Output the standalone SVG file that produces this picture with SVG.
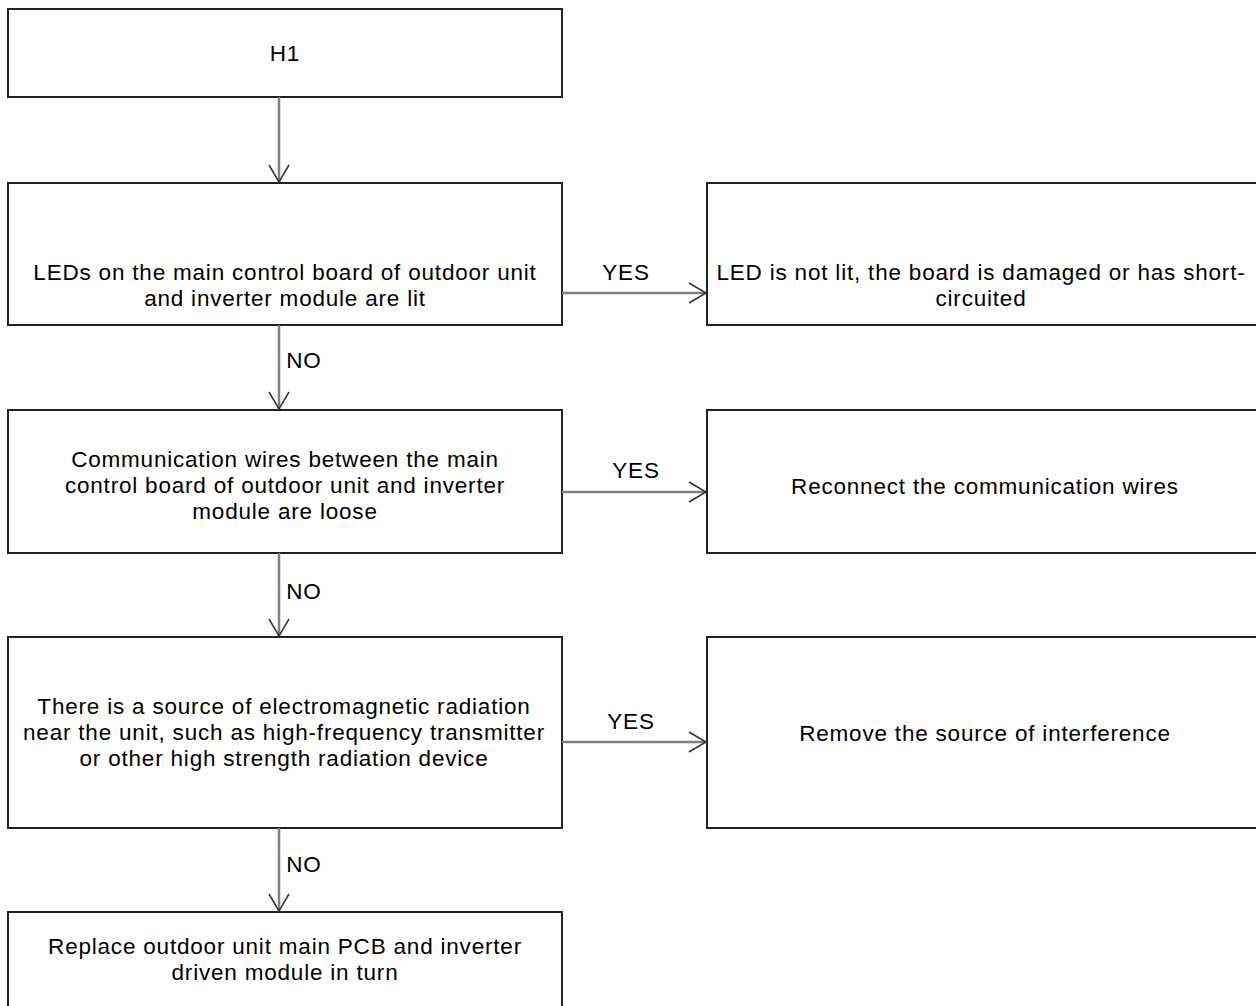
<svg xmlns="http://www.w3.org/2000/svg" width="1256" height="1006" viewBox="0 0 1256 1006">
<style>
.box{fill:#fff;stroke:#222;stroke-width:2}
.t{font-family:"Liberation Sans",Arial,sans-serif;font-size:22.5px;letter-spacing:0.8px;fill:#000;text-anchor:middle}
.c{stroke:#808080;stroke-width:2.5;fill:none}
.h{stroke:#333;stroke-width:1.5;fill:none}
</style>
<rect width="1256" height="1006" fill="#fff"/>
<g id="n1"><rect class="box" x="8" y="9" width="554" height="88"/><text class="t" x="285" y="61">H1</text></g>
<g id="n2"><rect class="box" x="8" y="183" width="554" height="142"/><text class="t" x="285" y="280">LEDs on the main control board of outdoor unit</text><text class="t" x="285" y="306">and inverter module are lit</text></g>
<g id="n3"><rect class="box" x="707" y="183" width="560" height="142"/><text class="t" x="981" y="280">LED is not lit, the board is damaged or has short-</text><text class="t" x="981" y="306">circuited</text></g>
<g id="n4"><rect class="box" x="8" y="410" width="554" height="143"/><text class="t" x="285" y="467">Communication wires between the main</text><text class="t" x="285" y="493">control board of outdoor unit and inverter</text><text class="t" x="285" y="519">module are loose</text></g>
<g id="n5"><rect class="box" x="707" y="410" width="560" height="143"/><text class="t" x="985" y="494">Reconnect the communication wires</text></g>
<g id="n6"><rect class="box" x="8" y="637" width="554" height="191"/><text class="t" x="284" y="714">There is a source of electromagnetic radiation</text><text class="t" x="284" y="740">near the unit, such as high-frequency transmitter</text><text class="t" x="284" y="766">or other high strength radiation device</text></g>
<g id="n7"><rect class="box" x="707" y="637" width="560" height="191"/><text class="t" x="985" y="741">Remove the source of interference</text></g>
<g id="n8"><rect class="box" x="8" y="912" width="554" height="110"/><text class="t" x="285" y="954">Replace outdoor unit main PCB and inverter</text><text class="t" x="285" y="980">driven module in turn</text></g>
<g id="connectors">
<path class="c" d="M279 97V182"/><path class="h" d="M269 165L279 182L289 165"/>
<path class="c" d="M279 325V409"/><path class="h" d="M269 392L279 409L289 392"/>
<path class="c" d="M279 553V636"/><path class="h" d="M269 619L279 636L289 619"/>
<path class="c" d="M279 828V911"/><path class="h" d="M269 894L279 911L289 894"/>
<path class="c" d="M562 293H706"/><path class="h" d="M689 283L706 293L689 303"/>
<path class="c" d="M562 492H706"/><path class="h" d="M689 482L706 492L689 502"/>
<path class="c" d="M562 742H706"/><path class="h" d="M689 732L706 742L689 752"/>
<text class="t" x="304" y="368">NO</text>
<text class="t" x="304" y="599">NO</text>
<text class="t" x="304" y="872">NO</text>
<text class="t" x="626" y="280">YES</text>
<text class="t" x="636" y="478">YES</text>
<text class="t" x="631" y="729">YES</text>
</g>
</svg>
